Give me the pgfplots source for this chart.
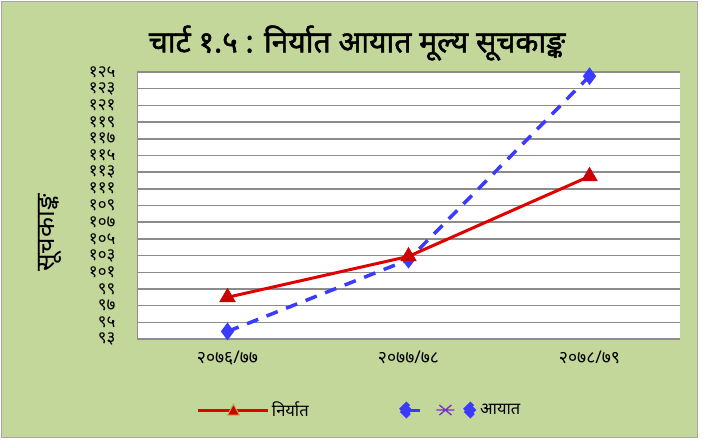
\documentclass[border=0pt]{standalone}
\usepackage{fontspec}
\usepackage{pgfplots}
\pgfplotsset{compat=1.18}
\newfontfamily\deva[Script=Devanagari]{Noto Sans}
\newfontfamily\devab[Script=Devanagari, FakeBold=1.6]{Noto Sans}
\definecolor{bggreen}{HTML}{C4D79B}
\definecolor{lred}{HTML}{E00000}
\definecolor{mred}{HTML}{CC0000}
\definecolor{lblue}{HTML}{3B3BFF}
\definecolor{gridgray}{HTML}{8C8C8C}
\begin{document}
\begin{tikzpicture}[x=1pt,y=1pt]
\useasboundingbox (0,0) rectangle (708,439);
\fill[bggreen, draw=gray!70, line width=1pt] (1.5,2) rectangle (697,437.5);
\node[font=\devab\fontsize{30}{34}\selectfont] at (357,396) {चार्ट १.५ : निर्यात आयात मूल्य सूचकाङ्क};
\node[rotate=90, font=\deva\fontsize{26}{28}\selectfont] at (50,206) {सूचकाङ्क};
\begin{axis}[
  at={(137pt,100pt)}, anchor=south west, scale only axis,
  width=543pt, height=267pt,
  xmin=-0.5, xmax=2.5, ymin=93, ymax=125,
  xtick={0,1,2},
  xticklabels={२०७६/७७, २०७७/७८, २०७८/७९},
  ytick={93,95,...,125},
  yticklabels={९३,९५,९७,९९,१०१,१०३,१०५,१०७,१०९,१११,११३,११५,११७,११९,१२१,१२३,१२५},
  yticklabel style={font=\deva\fontsize{17}{17}\selectfont, xshift=-18pt},
  xticklabel style={font=\deva\fontsize{17.5}{17.5}\selectfont, yshift=-8pt},
  major tick length=0pt,
  ymajorgrids, grid style={gridgray, line width=1.5pt},
  axis background/.style={fill=white},
  axis x line*=bottom, axis y line*=left,
  axis line style={gridgray, line width=1pt, -},
  clip=false,
  reverse legend,
  legend columns=2,
  legend style={at={(0.41,-0.266)}, anchor=center, draw=none, fill=none,
    font=\deva\fontsize{16.5}{16.5}\selectfont,
    /tikz/every even column/.append style={column sep=88pt}},
]
\addplot[lblue, line width=3.5pt, dash pattern=on 12pt off 9pt, mark=diamond*, mark size=6pt, mark options={solid, fill=lblue},
  legend image code/.code={%
    \draw[lblue, solid, line width=3pt] (0pt,0pt) -- (14pt,0pt);
    \fill[lblue] (-6pt,0pt) -- (0pt,6pt) -- (6pt,0pt) -- (0pt,-6pt) -- cycle;
    \draw[violet!60!blue!80, solid, line width=1.3pt] (33pt,-5pt) -- (45pt,5pt) (33pt,5pt) -- (45pt,-5pt) (30pt,0pt) -- (48pt,0pt);
    \fill[lblue] (58pt,0pt) -- (64pt,6pt) -- (70pt,0pt) -- (64pt,-6pt) -- cycle;
  }]
  coordinates {(0,93.9) (1,102.5) (2,124.5)};
\addlegendentry{आयात}
\addplot[lred, line width=3pt, mark=triangle*, mark size=9pt, mark options={fill=mred, draw=mred, line width=0.5pt},
  legend image code/.code={%
    \draw[lred, line width=3pt] (0pt,0pt) -- (70pt,0pt);
    \fill[mred, draw=olive!60, line width=1pt] (29pt,-5pt) -- (41pt,-5pt) -- (35pt,6pt) -- cycle;
  }]
  coordinates {(0,98.0) (1,102.9) (2,112.5)};
\addlegendentry{निर्यात}
\end{axis}
\end{tikzpicture}
\end{document}
